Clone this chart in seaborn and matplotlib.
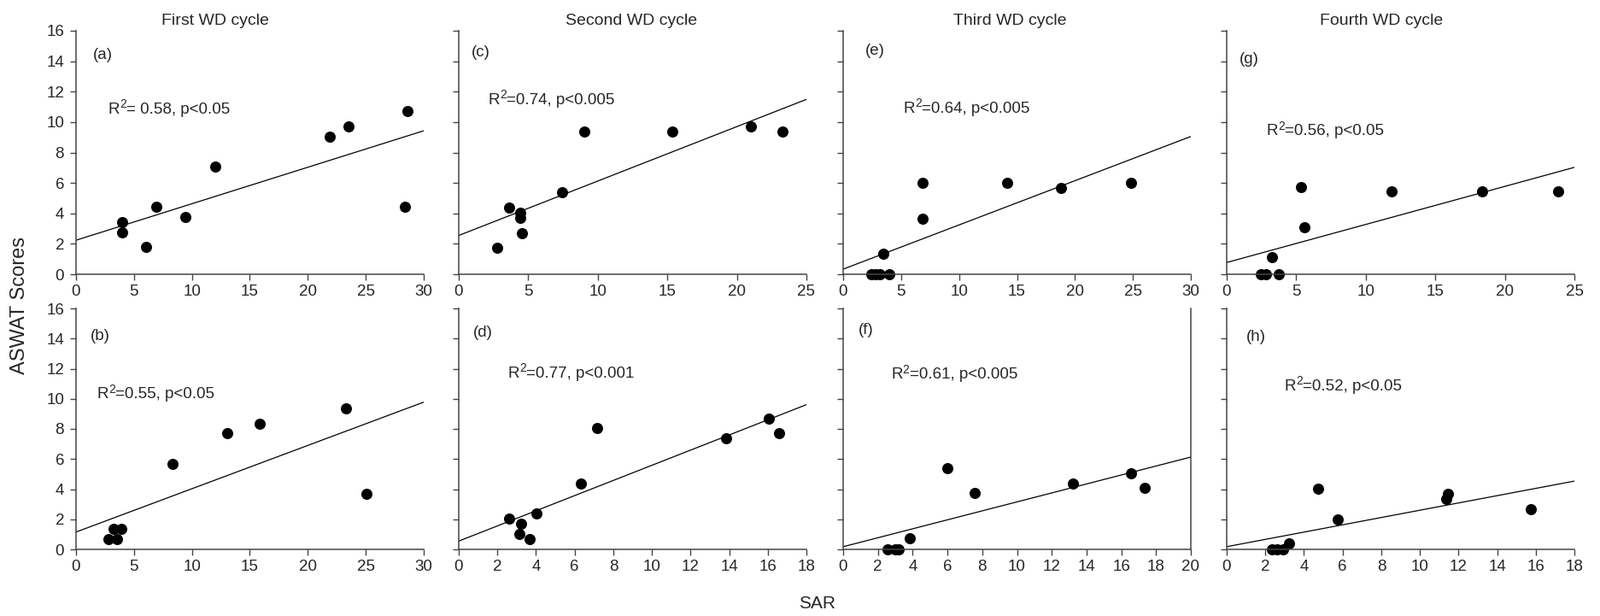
import numpy as np
import pandas as pd
import matplotlib
matplotlib.use('Agg')
import matplotlib.pyplot as plt
import seaborn as sns

# SAR (x) and ASWAT scores (y)
a_sar = [3.95, 3.95, 6.08, 6.92, 9.47, 12.05, 21.9, 23.5, 28.4, 28.6]
a_aswat = [3.43, 2.74, 1.78, 4.41, 3.75, 7.07, 9.06, 9.72, 4.41, 10.71]

b_sar = [2.81, 3.55, 3.28, 3.89, 8.35, 13.03, 15.84, 23.27, 25.03]
b_aswat = [0.66, 0.66, 1.36, 1.36, 5.70, 7.70, 8.36, 9.36, 3.68]

c_sar = [2.77, 3.63, 4.41, 4.41, 4.52, 7.43, 9.03, 15.35, 20.98, 23.3]
c_aswat = [1.72, 4.37, 4.07, 3.69, 2.70, 5.38, 9.37, 9.37, 9.72, 9.37]

d_sar = [2.63, 3.24, 3.12, 3.65, 4.03, 6.33, 7.17, 13.84, 16.06, 16.60]
d_aswat = [2.06, 1.72, 1.02, 0.70, 2.36, 4.38, 8.04, 7.38, 8.70, 7.72]

e_sar = [2.45, 2.82, 3.19, 3.97, 3.48, 6.82, 6.82, 14.15, 18.76, 24.85]
e_aswat = [0, 0, 0, 0, 1.37, 3.67, 6.0, 6.0, 5.68, 6.0]

f_sar = [2.57, 2.98, 3.18, 3.83, 6.01, 7.58, 13.24, 16.56, 17.35]
f_aswat = [0, 0, 0, 0.75, 5.40, 3.73, 4.39, 5.06, 4.07]

g_sar = [2.45, 2.80, 3.72, 3.27, 5.35, 5.60, 11.87, 18.36, 23.82]
g_aswat = [0, 0, 0, 1.13, 5.74, 3.08, 5.44, 5.44, 5.44]

h_sar = [2.34, 2.61, 2.93, 3.23, 4.74, 5.76, 11.36, 11.46, 15.76]
h_aswat = [0, 0, 0, 0.38, 4.03, 2.01, 3.35, 3.71, 2.69]

panel_tags = ['(a)', '(b)', '(c)', '(d)', '(e)', '(f)', '(g)', '(h)']
stats_text = ['= 0.58, p<0.05', '=0.55, p<0.05',
              '=0.74, p<0.005', '=0.77, p<0.001',
              '=0.64, p<0.005', '=0.61, p<0.005',
              '=0.56, p<0.05', '=0.52, p<0.05']
x_max = [30, 30, 25, 18, 30, 20, 25, 18]
x_step = [5, 5, 5, 2, 5, 2, 5, 2]
titles = ['First WD cycle', 'Second WD cycle', 'Third WD cycle', 'Fourth WD cycle']

xs = [a_sar, b_sar, c_sar, d_sar, e_sar, f_sar, g_sar, h_sar]
ys = [a_aswat, b_aswat, c_aswat, d_aswat, e_aswat, f_aswat, g_aswat, h_aswat]

sns.set_style('ticks')
plt.rcParams['font.family'] = ['Liberation Sans', 'DejaVu Sans']

W, H = 1874, 721
fig = plt.figure(figsize=(W / 100, H / 100), dpi=100)

lefts = [89, 537, 987, 1436]
# label positions (axes fraction): tag x,y and stats x,y
tag_pos = [(0.048, 0.90), (0.042, 0.884), (0.037, 0.91), (0.041, 0.90),
           (0.063, 0.918), (0.043, 0.91), (0.036, 0.883), (0.055, 0.882)]
stat_pos = [(0.092, 0.675), (0.06, 0.643), (0.085, 0.714), (0.142, 0.729),
            (0.173, 0.679), (0.138, 0.724), (0.114, 0.586), (0.167, 0.676)]
title_x = [0.40, 0.496, 0.48, 0.446]

for i in range(8):
    col, row = i // 2, i % 2
    if row == 0:
        rect = [lefts[col] / W, 1 - 321 / H, 407 / W, 285 / H]
    else:
        rect = [lefts[col] / W, 1 - 643 / H, 407 / W, 282 / H]
    ax = fig.add_axes(rect)
    ax.set_xlim(0, x_max[i])
    ax.set_ylim(0, 16)
    df = pd.DataFrame({'SAR': xs[i], 'ASWAT': ys[i]})
    sns.regplot(data=df, x='SAR', y='ASWAT', ax=ax, ci=None, truncate=False,
                color='black',
                scatter_kws={'s': 88, 'clip_on': False, 'linewidths': 0, 'alpha': 1},
                line_kws={'color': 'black', 'lw': 0.9})
    ax.set_xlim(0, x_max[i])
    ax.set_ylim(0, 16)
    ax.set_xticks(np.arange(0, x_max[i] + 1, x_step[i]))
    ax.set_yticks(np.arange(0, 17, 2))
    ax.set_xlabel('')
    ax.set_ylabel('')
    ax.tick_params(axis='both', labelsize=13.5, length=5, width=1, color='#444444', direction='out')
    ax.tick_params(axis='x', pad=4)
    ax.tick_params(axis='y', pad=5)
    if col != 0:
        ax.set_yticklabels([])
    for side in ['left', 'bottom', 'right']:
        ax.spines[side].set_color('#444444')
        ax.spines[side].set_linewidth(1.1)
    ax.spines['top'].set_visible(False)
    if i != 5:
        ax.spines['right'].set_visible(False)
    ax.text(tag_pos[i][0], tag_pos[i][1], panel_tags[i], transform=ax.transAxes,
            fontsize=13.5, ha='left', va='center')
    # R² label: R, a raised 2, then the rest of the text
    t1 = ax.text(stat_pos[i][0], stat_pos[i][1], 'R', transform=ax.transAxes,
                 fontsize=13.5, ha='left', va='center')
    t2 = ax.annotate('2', xy=(1.0, 0.45), xycoords=t1, fontsize=10,
                     ha='left', va='bottom')
    ax.annotate(stats_text[i], xy=(1.0, 0.0), xycoords=(t2, t1), fontsize=13.5,
                ha='left', va='bottom')
    if row == 0:
        ax.set_title(titles[col], fontsize=14, x=title_x[col], pad=5)

fig.text(23 / W, 1 - 357 / H, 'ASWAT Scores', rotation=90, fontsize=17,
         ha='center', va='center')
fig.text(957 / W, 1 - 707 / H, 'SAR', fontsize=15, ha='center', va='center')

fig.savefig('out.png', dpi=100)
